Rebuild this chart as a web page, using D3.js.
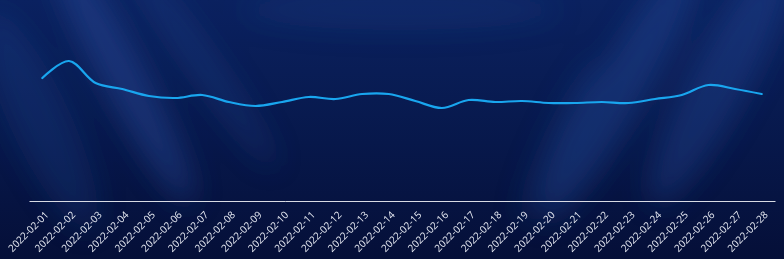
<!DOCTYPE html>
<meta charset="utf-8">
<head>
<style>
body { margin: 0; background: #061541; }
.axis text { font: 10px "Open Sans", sans-serif; fill: #e6e9f2; }
.axis path, .axis line { stroke: #d8dbe4; }
</style>
</head>
<body>
<script src="https://cdn.jsdelivr.net/npm/d3@7"></script>
<script>

// data (no y axis is shown, units arbitrary)
var dates = ["2022-02-01","2022-02-02","2022-02-03","2022-02-04","2022-02-05","2022-02-06","2022-02-07",
             "2022-02-08","2022-02-09","2022-02-10","2022-02-11","2022-02-12","2022-02-13","2022-02-14",
             "2022-02-15","2022-02-16","2022-02-17","2022-02-18","2022-02-19","2022-02-20","2022-02-21",
             "2022-02-22","2022-02-23","2022-02-24","2022-02-25","2022-02-26","2022-02-27","2022-02-28"];
var values = [123, 140, 118, 112, 105, 103, 106,
              99, 95, 99, 104, 102, 107, 107,
              100, 93, 101, 99, 100, 98, 98,
              99, 98, 102, 106, 116, 112, 107];
var yDomain = [0, 180];

var W = 784, H = 259;
var margin = {top: 21, right: 9, bottom: 58, left: 29},
    width = W - margin.left - margin.right,
    height = H - margin.top - margin.bottom;

var root = d3.select("body").append("svg")
    .attr("width", W)
    .attr("height", H);

var defs = root.append("defs");
var bg = defs.append("linearGradient").attr("id", "bg")
    .attr("x1", 0).attr("y1", 0).attr("x2", 0).attr("y2", 1);
bg.append("stop").attr("offset", "0%").attr("stop-color", "#0b2260");
bg.append("stop").attr("offset", "55%").attr("stop-color", "#07184b");
bg.append("stop").attr("offset", "100%").attr("stop-color", "#050f38");

defs.append("filter").attr("id", "blur")
    .attr("x", "-50%").attr("y", "-50%").attr("width", "200%").attr("height", "200%")
  .append("feGaussianBlur").attr("stdDeviation", 14);

root.append("rect").attr("width", W).attr("height", H).attr("fill", "url(#bg)");

// soft light streaks in the background
var streaks = [
  {cx: 120, cy: 70, rx: 22, ry: 150, rot: -28, op: 0.4},
  {cx: 200, cy: 60, rx: 14, ry: 130, rot: -35, op: 0.25},
  {cx: 40, cy: 120, rx: 30, ry: 120, rot: -25, op: 0.2},
  {cx: 620, cy: 90, rx: 26, ry: 150, rot: 30, op: 0.35},
  {cx: 720, cy: 80, rx: 30, ry: 140, rot: 28, op: 0.3},
  {cx: 560, cy: 140, rx: 14, ry: 90, rot: 25, op: 0.2},
  {cx: 400, cy: 10, rx: 160, ry: 20, rot: 0, op: 0.15}
];
var glow = root.append("g").attr("filter", "url(#blur)");
streaks.forEach(function(s) {
    glow.append("ellipse")
        .attr("cx", s.cx).attr("cy", s.cy)
        .attr("rx", s.rx).attr("ry", s.ry)
        .attr("transform", "rotate(" + s.rot + "," + s.cx + "," + s.cy + ")")
        .attr("fill", "#2c56a8")
        .attr("opacity", s.op);
});

var svg = root.append("g")
    .attr("transform", "translate(" + margin.left + "," + margin.top + ")");

var x = d3.scalePoint()
    .domain(dates)
    .range([0, width])
    .padding(0.5);

var y = d3.scaleLinear()
    .domain(yDomain)
    .range([height, 0]);

var xAxis = svg.append("g")
    .attr("class", "axis")
    .attr("transform", "translate(0," + height + ")")
    .call(d3.axisBottom(x).tickSize(0).tickPadding(6));

xAxis.select(".domain").attr("stroke", "#d8dbe4").attr("stroke-width", 1);

xAxis.selectAll("text")
    .attr("y", 0)
    .attr("x", 0)
    .attr("dy", ".35em")
    .attr("transform", "translate(4,12) rotate(-45)")
    .style("text-anchor", "end");

var line = d3.line()
    .x(function(d, i) { return x(dates[i]); })
    .y(function(d) { return y(d); })
    .curve(d3.curveCatmullRom.alpha(0.5));

svg.append("path")
    .datum(values)
    .attr("fill", "none")
    .attr("stroke", "#19a6ef")
    .attr("stroke-width", 2.2)
    .attr("stroke-linecap", "round")
    .attr("d", line);

</script>
</body>
